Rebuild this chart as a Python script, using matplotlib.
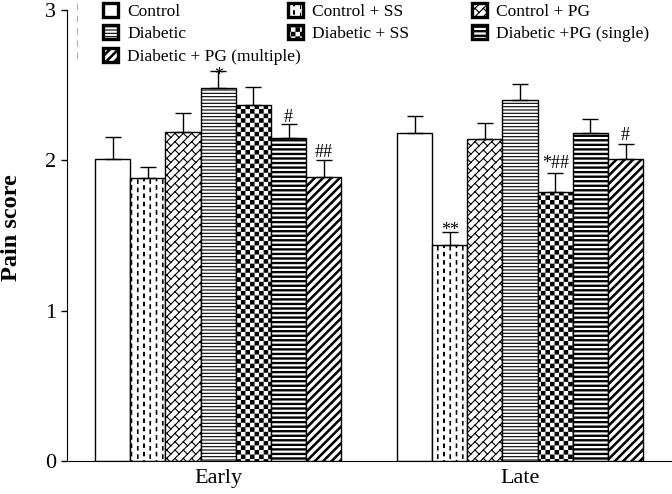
import numpy as np
import matplotlib
matplotlib.use('Agg')
import matplotlib.pyplot as plt
import matplotlib.hatch as mhatch
from matplotlib.patches import Rectangle
from matplotlib.lines import Line2D
from matplotlib.path import Path

groups = ['Early', 'Late']
labels = ['Control', 'Control + SS', 'Control + PG', 'Diabetic',
          'Diabetic + SS', 'Diabetic +PG (single)', 'Diabetic + PG (multiple)']
early_mean = [2.01, 1.88, 2.19, 2.48, 2.37, 2.15, 1.89]
early_sem = [0.145, 0.075, 0.125, 0.115, 0.115, 0.09, 0.115]
late_mean = [2.18, 1.44, 2.14, 2.40, 1.79, 2.18, 2.01]
late_sem = [0.115, 0.085, 0.11, 0.105, 0.125, 0.095, 0.10]

# significance marks (group index, bar index, text)
sig_group = [0, 0, 0, 1, 1, 1]
sig_bar = [3, 5, 6, 1, 4, 6]
sig_text = ['*', '#', '##', '**', '*##', '#']
sig_offset = [-6.5, 1.5, 2, -2.5, 4, 3]   # points above the error cap

plt.rcParams['font.family'] = ['Liberation Serif', 'DejaVu Serif']
plt.rcParams['hatch.linewidth'] = 0.8
plt.rcParams['hatch.color'] = 'black'

# ---- custom fill patterns (tile = 1 inch = 100 px at dpi 100) ----
PX = 0.01
HW = 0.55 * PX


def _rect(x, y, w, h):
    return [(x, y), (x + w, y), (x + w, y + h), (x, y + h)], True


def _vdashes(n=16, m=12):
    out = []
    for i in range(n):
        for j in range(-1, m + 1):
            out.append(_rect(i / n, (j + 0.3 * (i % 2)) / m, 0.5 * PX, 3.5 * PX))
    return out


def _bricks(n=12, m=6):
    out = []
    for k in range(-n - 1, n + 2):
        s = k / n
        out.append(([(s - 1.5, -1.5), (s + 2.5, 2.5)], False))
        s2 = s + 1 / n
        for j in range(-1, 2 * m + 2):
            t = (j + 0.5 * (k % 2)) / m
            out.append(([((s + t) / 2, (t - s) / 2),
                         ((s2 + t) / 2, (t - s2) / 2)], False))
    return out


def _hlines(n=30):
    return [([(-0.1, i / n), (1.1, i / n)], False) for i in range(n + 1)]


def _checks(n=22):
    c = 1 / n
    return [_rect(i * c + HW, j * c + HW, c - 2 * HW, c - 2 * HW)
            for i in range(n) for j in range(n) if (i + j) % 2 == 0]


def _stripes(n=22):
    return [_rect(-0.1, i / n, 1.2, 1.2 * PX) for i in range(n + 1)]


def _diags(n=12):
    w = 1.4 * PX * np.sqrt(2)
    out = []
    for k in range(-n - 1, n + 2):
        s = k / n
        out.append(([(s - 1.5, -1.5), (s + 2.5, 2.5),
                     (s + w + 2.5, 2.5), (s + w - 1.5, -1.5)], True))
    return out


def _make_hatch(char, builder):
    class _Pattern(mhatch.HatchPatternBase):
        def __init__(self, hatch, density):
            self.verts, self.codes = [], []
            if char in hatch:
                for pts, closed in builder():
                    self.verts += pts
                    self.codes += [Path.MOVETO] + [Path.LINETO] * (len(pts) - 1)
                    if closed:
                        self.verts.append(pts[0])
                        self.codes.append(Path.CLOSEPOLY)
            self.num_vertices = len(self.verts)

        def set_vertices_and_codes(self, vertices, codes):
            vertices[:] = self.verts
            codes[:] = self.codes
    return _Pattern


mhatch._hatch_types = [_make_hatch(c, f) for c, f in
                       [('|', _vdashes), ('x', _bricks), ('-', _hlines),
                        ('+', _checks), ('O', _stripes), ('/', _diags)]]

hatches = [None, '|', 'x', '-', '+', 'O', '/']

fig = plt.figure(figsize=(6.72, 4.94), dpi=100)
ax = fig.add_axes([67 / 672, 33 / 494, 605 / 672, 451 / 494])

offsets = [0, 8.58]
means = [early_mean, late_mean]
sems = [early_sem, late_sem]
xs = []
for g in range(2):
    x = np.arange(len(labels)) + offsets[g]
    xs.append(x)
    for i in range(len(labels)):
        ax.bar(x[i], means[g][i], width=1.0, color='white', edgecolor='black',
               linewidth=1.0, hatch=hatches[i])
    ax.errorbar(x, means[g], yerr=[np.zeros(len(labels)), sems[g]], fmt='none',
                ecolor='black', elinewidth=1.0, capsize=5.5, capthick=1.0)

for g, b, txt, off in zip(sig_group, sig_bar, sig_text, sig_offset):
    top = means[g][b] + sems[g][b]
    ax.annotate(txt, xy=(xs[g][b], top), xytext=(0, off),
                textcoords='offset points', ha='center', va='baseline',
                fontsize=13)

ax.set_xlim(-1.3, 15.9)
ax.set_ylim(0, 3)
for side in ['top', 'right']:
    ax.spines[side].set_visible(False)
ax.set_yticks([0, 1, 2, 3])
ax.tick_params(axis='y', direction='out', length=4, width=1, labelsize=16, pad=4)
ax.set_xticks([x.mean() for x in xs], groups)
ax.tick_params(axis='x', length=0, labelsize=16, pad=6)
ax.set_ylabel('Pain score', fontsize=17.5, fontweight='bold')
ax.yaxis.set_label_coords(-0.074, 0.517)

# legend laid out as three columns, like the original
cols = [[0, 3, 6], [1, 4], [2, 5]]
col_x = [103, 288, 472]
for idx, x0 in zip(cols, col_x):
    handles = [Rectangle((0, 0), 1, 1, facecolor='white', edgecolor='black',
                         hatch=hatches[i], linewidth=2.4) for i in idx]
    fig.legend(handles, [labels[i] for i in idx], loc='upper left',
               bbox_to_anchor=(x0 / 672, 1 - 3 / 494), frameon=False,
               fontsize=12.5, handlelength=0.85, handleheight=0.85,
               handletextpad=0.55, labelspacing=0.32, borderpad=0,
               borderaxespad=0)

# faint dashed mark left of the legend in the original figure
fig.add_artist(Line2D([77 / 672, 77 / 672], [1 - 3 / 494, 1 - 60 / 494],
                      color='#b0b0b0', linewidth=0.8, linestyle=(0, (6, 5))))

fig.savefig('out.png', dpi=100)
